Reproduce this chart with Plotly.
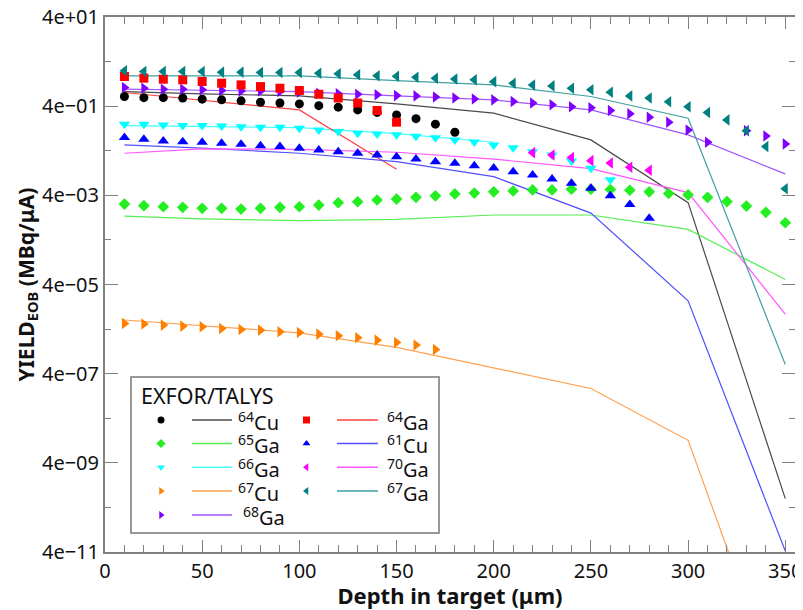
import plotly.graph_objects as go

# ---------------- data ----------------
depth_64cu = [10, 20, 30, 40, 50, 60, 70, 80, 90, 100, 110, 120, 130, 140, 150, 160, 170, 180]
exp_64cu = [0.66, 0.62, 0.62, 0.61, 0.574, 0.554, 0.526, 0.49, 0.47, 0.45, 0.41, 0.38, 0.33, 0.29, 0.255, 0.21, 0.158, 0.104]

depth_64ga = [10, 20, 30, 40, 50, 60, 70, 80, 90, 100, 110, 120, 130, 140, 150]
exp_64ga = [1.85, 1.70, 1.61, 1.56, 1.43, 1.31, 1.20, 1.10, 1.01, 0.90, 0.74, 0.61, 0.47, 0.32, 0.175]

depth_65ga = [10, 20, 30, 40, 50, 60, 70, 80, 90, 100, 110, 120, 130, 140, 150, 160, 170, 180,
              190, 200, 210, 220, 230, 240, 250, 260, 270, 280, 290, 300, 310, 320, 330, 340, 350]
exp_65ga = [0.00255, 0.00234, 0.00222, 0.00215, 0.00204, 0.00204, 0.00197, 0.00204, 0.00215, 0.00222,
            0.00242, 0.00273, 0.00287, 0.00314, 0.0033, 0.0036, 0.0039, 0.0043, 0.0045, 0.0048,
            0.0050, 0.0053, 0.0053, 0.0055, 0.0055, 0.0054, 0.0052, 0.0048, 0.0044, 0.0041,
            0.0036, 0.0029, 0.0023, 0.00166, 0.00097]

depth_61cu = [10, 20, 30, 40, 50, 60, 70, 80, 90, 100, 110, 120, 130, 140, 150, 160, 170, 180,
              190, 200, 210, 220, 230, 240, 250, 260, 270, 280]
exp_61cu = [0.079, 0.0726, 0.0665, 0.064, 0.062, 0.059, 0.056, 0.052, 0.0495, 0.0456, 0.0418, 0.0382,
            0.0352, 0.0322, 0.0295, 0.0262, 0.0228, 0.021, 0.0185, 0.0165, 0.0136, 0.0115, 0.0093,
            0.0075, 0.0058, 0.0039, 0.0025, 0.00122]

depth_66ga = [10, 20, 30, 40, 50, 60, 70, 80, 90, 100, 110, 120, 130, 140, 150, 160, 170, 180,
              190, 200, 210, 220, 230, 240, 250, 260]
exp_66ga = [0.158, 0.158, 0.152, 0.147, 0.147, 0.144, 0.139, 0.135, 0.135, 0.128, 0.117, 0.108, 0.099,
            0.095, 0.091, 0.085, 0.078, 0.070, 0.063, 0.054, 0.047, 0.038, 0.032, 0.0236, 0.0162, 0.0089]

depth_70ga = [220, 230, 240, 250, 260, 270, 280]
exp_70ga = [0.0363, 0.0322, 0.0283, 0.024, 0.0213, 0.0171, 0.0146]

depth_67cu = [10, 20, 30, 40, 50, 60, 70, 80, 90, 100, 110, 120, 130, 140, 150, 160, 170]
exp_67cu = [5.37e-6, 5.18e-6, 4.91e-6, 4.66e-6, 4.5e-6, 4.14e-6, 3.93e-6, 3.79e-6, 3.47e-6, 3.37e-6,
            3.08e-6, 2.83e-6, 2.55e-6, 2.26e-6, 2.01e-6, 1.75e-6, 1.40e-6]

depth_67ga = [10, 20, 30, 40, 50, 60, 70, 80, 90, 100, 110, 120, 130, 140, 150, 160, 170, 180,
              190, 200, 210, 220, 230, 240, 250, 260, 270, 280, 290, 300, 310, 320, 330, 340, 350]
exp_67ga = [2.48, 2.39, 2.39, 2.39, 2.39, 2.32, 2.32, 2.27, 2.27, 2.27, 2.20, 2.13, 2.02, 1.93, 1.87,
            1.79, 1.70, 1.62, 1.56, 1.42, 1.31, 1.20, 1.14, 1.01, 0.93, 0.82, 0.68, 0.61, 0.50, 0.39,
            0.287, 0.197, 0.113, 0.0496, 0.0056]

depth_68ga = [10, 20, 30, 40, 50, 60, 70, 80, 90, 100, 110, 120, 130, 140, 150, 160, 170, 180,
              190, 200, 210, 220, 230, 240, 250, 260, 270, 280, 290, 300, 310, 330, 340, 350]
exp_68ga = [1.05, 1.01, 0.96, 0.96, 0.93, 0.90, 0.88, 0.88, 0.85, 0.82, 0.78, 0.755, 0.74, 0.72, 0.69,
            0.68, 0.64, 0.61, 0.58, 0.554, 0.51, 0.47, 0.43, 0.39, 0.37, 0.32, 0.27, 0.226, 0.175,
            0.117, 0.062, 0.113, 0.086, 0.057]

# TALYS curves
talys_depth = [10, 50, 100, 150, 200, 250, 300, 350]
talys_64cu = [0.85, 0.755, 0.68, 0.45, 0.28, 0.070, 0.00274, 6.3e-10]
talys_65ga = [0.00137, 0.00118, 0.00108, 0.00115, 0.00145, 0.00145, 0.00069, 5.2e-5]
talys_67cu = [6.4e-6, 4.8e-6, 3.3e-6, 1.55e-6, 5.4e-7, 1.86e-7, 1.28e-8, 1.2e-14]
talys_68ga = [0.96, 0.90, 0.85, 0.68, 0.554, 0.33, 0.091, 0.0121]
talys_61cu = [0.054, 0.0456, 0.0352, 0.0228, 0.0105, 0.0016, 1.72e-5, 4.2e-11]
talys_70ga = [0.0352, 0.044, 0.043, 0.037, 0.026, 0.0159, 0.0046, 8.7e-6]
talys_67ga = [1.92, 1.92, 1.92, 1.50, 1.20, 0.66, 0.215, 6.4e-7]
talys_depth_66ga = [10, 100, 150, 200]
talys_66ga = [0.147, 0.132, 0.097, 0.062]
talys_depth_64ga = [10, 100, 150]
talys_64ga = [0.81, 0.33, 0.0154]

x_tickvals = [0, 50, 100, 150, 200, 250, 300, 350]
y_tickvals = [4e-11, 4e-09, 4e-07, 4e-05, 4e-03, 4e-01, 4e+01]
y_ticktext = ["4e\u221211", "4e\u221209", "4e\u221207", "4e\u221205", "4e\u221203", "4e\u221201", "4e+01"]
y_minor = [4e-10, 4e-08, 4e-06, 4e-04, 4e-02, 4e+00]

# ---------------- styles ----------------
series = [
    # name, sup, elem, exp x, exp y, symbol, marker color, talys x, talys y, line color, size
    ("64Cu", "64", "Cu", depth_64cu, exp_64cu, "circle", "#000000", talys_depth, talys_64cu, "#4a4a4a", 9),
    ("65Ga", "65", "Ga", depth_65ga, exp_65ga, "diamond", "#22ee22", talys_depth, talys_65ga, "#55ee55", 9),
    ("66Ga", "66", "Ga", depth_66ga, exp_66ga, "triangle-down", "#00ffff", talys_depth_66ga, talys_66ga, "#44ffff", 10),
    ("67Cu", "67", "Cu", depth_67cu, exp_67cu, "triangle-right", "#ff8000", talys_depth, talys_67cu, "#ffa050", 10),
    ("68Ga", "68", "Ga", depth_68ga, exp_68ga, "triangle-right", "#8000ff", talys_depth, talys_68ga, "#a055ff", 10),
    ("64Ga", "64", "Ga", depth_64ga, exp_64ga, "square", "#ff0000", talys_depth_64ga, talys_64ga, "#ff4040", 9),
    ("61Cu", "61", "Cu", depth_61cu, exp_61cu, "triangle-up", "#0000ff", talys_depth, talys_61cu, "#5050ff", 10),
    ("70Ga", "70", "Ga", depth_70ga, exp_70ga, "triangle-left", "#ff00ff", talys_depth, talys_70ga, "#ff55ff", 10),
    ("67Ga", "67", "Ga", depth_67ga, exp_67ga, "triangle-left", "#008080", talys_depth, talys_67ga, "#40a0a0", 10),
]

FONT = "Noto Sans"
fig = go.Figure()

for name, sup, el, ex, ey, sym, mc, tx, ty, lc, ms in series:
    fig.add_trace(go.Scatter(x=tx, y=ty, mode="lines", line=dict(color=lc, width=1.2),
                             showlegend=False, name=name + " TALYS"))
for name, sup, el, ex, ey, sym, mc, tx, ty, lc, ms in series:
    fig.add_trace(go.Scatter(x=ex, y=ey, mode="markers",
                             marker=dict(symbol=sym, color=mc, size=ms, line=dict(width=0)),
                             showlegend=False, name=name + " EXFOR"))

# ---------------- custom legend (pixel-space overlay axes, window coordinates) ----------------
L_LEFT, L_RIGHT, L_TOP, L_BOTTOM = 105, 795, 17, 552
row_y = [420, 443.5, 467.3, 491, 515]
col = [dict(mx=161, lx0=192, lx1=232, tx=236), dict(mx=306.5, lx0=337, lx1=378, tx=385)]
leg_x, leg_y, leg_sym, leg_col = [], [], [], []
shapes = []
annotations = []
for i, s in enumerate(series):
    c = col[0] if i < 5 else col[1]
    r = row_y[i] if i < 5 else row_y[i - 5]
    leg_x.append(c["mx"]); leg_y.append(r); leg_sym.append(s[5]); leg_col.append(s[6])
    shapes.append(dict(type="line", xref="x2", yref="y2", x0=c["lx0"], x1=c["lx1"], y0=r, y1=r,
                       line=dict(color=s[9], width=1.5)))
    tx = c["tx"] + (5 if s[0] == "68Ga" else 0)
    annotations.append(dict(xref="x2", yref="y2", x=tx, y=r + 1, xanchor="left", yanchor="middle",
                            text="<sup>%s</sup>%s" % (s[1], s[2]), showarrow=False,
                            font=dict(family=FONT, size=20, color="#111111")))
fig.add_trace(go.Scatter(x=leg_x, y=leg_y, xaxis="x2", yaxis="y2", mode="markers",
                         marker=dict(symbol=leg_sym, color=leg_col, size=7, line=dict(width=0)),
                         showlegend=False, hoverinfo="skip"))
shapes.insert(0, dict(type="rect", xref="x2", yref="y2", x0=131, x1=439, y0=377, y1=533,
                      line=dict(color="#777777", width=1.5), fillcolor="white", layer="below"))
annotations.insert(0, dict(xref="x2", yref="y2", x=139, y=395, xanchor="left", yanchor="middle",
                           text="EXFOR/TALYS", showarrow=False,
                           font=dict(family=FONT, size=21.5, color="#111111")))

axis_common = dict(showline=True, linecolor="#808080", linewidth=2, mirror="ticks",
                   ticks="inside", tickcolor="#808080", tickwidth=1.2, showgrid=False, zeroline=False,
                   automargin=False, ticklabeloverflow="allow",
                   tickfont=dict(family=FONT, size=20, color="#111111"))

# the page body adds an 8px offset, so the figure is 8px smaller and margins shifted
fig.update_layout(
    width=795, height=602,
    margin=dict(l=97, r=8, t=9, b=58, autoexpand=False),
    paper_bgcolor="white", plot_bgcolor="white",
    showlegend=False,
    xaxis=dict(range=[0, 355], tickvals=x_tickvals, ticklen=12,
               minor=dict(dtick=10, tick0=0, ticklen=7, ticks="inside", tickcolor="#808080", tickwidth=1.2),
               title=dict(text="<b>Depth in target (\u03bcm)</b>", standoff=0,
                          font=dict(family=FONT, size=22, color="#111111")),
               **axis_common),
    yaxis=dict(type="log", range=[-10.39794, 1.60206], tickvals=y_tickvals, ticktext=y_ticktext,
               ticklen=13,
               minor=dict(tickvals=y_minor, ticklen=6, ticks="inside", tickcolor="#808080", tickwidth=1.2),
               title=dict(text="<b>YIELD<sub>EOB</sub> (MBq/\u03bcA)</b>", standoff=2,
                          font=dict(family=FONT, size=21, color="#111111")),
               **axis_common),
    xaxis2=dict(overlaying="x", range=[L_LEFT, L_RIGHT], visible=False, anchor="y2", automargin=False),
    yaxis2=dict(overlaying="y", range=[L_BOTTOM, L_TOP], visible=False, anchor="x2", automargin=False),
    shapes=shapes,
    annotations=annotations,
)

fig.write_html("out.html")
